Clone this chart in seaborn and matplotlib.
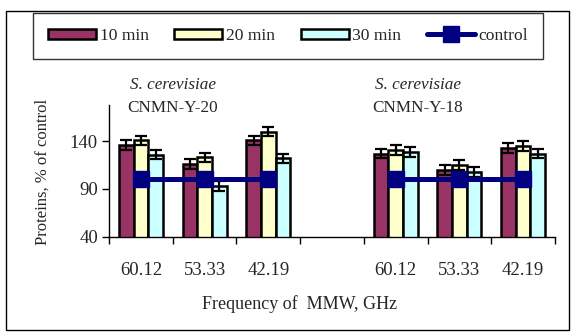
import numpy as np
import pandas as pd
import matplotlib
matplotlib.use("Agg")
import matplotlib.pyplot as plt
from matplotlib.patches import Patch, Rectangle
from matplotlib.lines import Line2D
import seaborn as sns

# ---- data ----
cat_keys = ["L60.12", "L53.33", "L42.19", "gap", "R60.12", "R53.33", "R42.19"]
tick_labels = ["60.12", "53.33", "42.19", "", "60.12", "53.33", "42.19"]
data_cats = ["L60.12", "L53.33", "L42.19", "R60.12", "R53.33", "R42.19"]
series = ["10 min", "20 min", "30 min"]
vals_10 = [136, 116, 141, 127, 110, 133]
vals_20 = [141, 123, 150, 131, 115, 135]
vals_30 = [126, 93, 122, 129, 108, 127]
err_10 = [5, 5, 5, 5, 5, 5]
err_20 = [5, 5, 5, 5, 5, 5]
err_30 = [5, 5, 5, 5, 5, 5]
control_left = ["L60.12", "L53.33", "L42.19"]
control_right = ["R60.12", "R53.33", "R42.19"]
control_val = 100
titles = [("S. cerevisiae", "CNMN-Y-20"), ("S. cerevisiae", "CNMN-Y-18")]
colors = ["#993366", "#FFFFCC", "#CCFFFF"]
navy = "#000080"

rows = []
for s, vals in zip(series, [vals_10, vals_20, vals_30]):
    for c, v in zip(data_cats, vals):
        rows.append({"cat": c, "series": s, "value": v})
df = pd.DataFrame(rows)
errs = {s: dict(zip(data_cats, e)) for s, e in zip(series, [err_10, err_20, err_30])}

sns.set_theme(style="white")
plt.rcParams["font.family"] = ["Liberation Serif", "DejaVu Serif"]

W, H = 572, 333
fig = plt.figure(figsize=(W / 100, H / 100), dpi=100)
ax = fig.add_axes([109 / W, 1 - 236.7 / H, (555 - 109) / W, (236.7 - 105) / H])

sns.barplot(data=df, x="cat", y="value", hue="series", order=cat_keys,
            hue_order=series, palette=colors, width=0.69, errorbar=None,
            edgecolor="black", linewidth=1.8, saturation=1, ax=ax, legend=False,
            zorder=2)

# error bars at bar positions from the library
for s, cont in zip(series, ax.containers):
    for p in cont.patches:
        if np.isnan(p.get_height()) or p.get_height() == 0:
            continue
        xc = p.get_x() + p.get_width() / 2
        ci = int(round(xc))
        key = cat_keys[ci]
        ax.errorbar(xc, p.get_height(), yerr=errs[s][key], fmt="none",
                    ecolor="black", elinewidth=1.6, capsize=4.6, capthick=1.6,
                    zorder=3)

for grp in (control_left, control_right):
    xs = [cat_keys.index(k) for k in grp]
    ax.plot(xs, [control_val] * len(xs), color=navy, lw=3.6, marker="s",
            markersize=11, zorder=4, solid_capstyle="butt")

ax.set_ylim(40, 178)
ax.set_xlim(-0.5, len(cat_keys) - 0.5)
ax.set_yticks([40, 90, 140])
ax.set_xticks(np.arange(len(cat_keys) + 1) - 0.5)
ax.set_xticklabels([])
ax.set_xticks(np.arange(len(cat_keys)), minor=True)
ax.set_xticklabels(tick_labels, minor=True)
ax.tick_params(axis="x", which="major", direction="out", length=5, width=1, color="black", bottom=True)
ax.tick_params(axis="x", which="minor", length=0, pad=18, labelsize=13.5, bottom=True)
ax.tick_params(axis="y", direction="out", length=5, width=1, color="black", labelsize=13.5, left=True, pad=3)
for sp in ["top", "right"]:
    ax.spines[sp].set_visible(False)
for sp in ["left", "bottom"]:
    ax.spines[sp].set_color("black")
    ax.spines[sp].set_linewidth(1)
ax.set_xlabel("")
ax.set_ylabel("")
ax.grid(False)

fig.text(43 / W, 1 - 172 / H, "Proteins, % of control", rotation=90,
         ha="center", va="center", fontsize=12)
fig.text(300 / W, 1 - 304 / H, "Frequency of  MMW, GHz", ha="center",
         va="center", fontsize=13)

for (t1, t2), xc in zip(titles, [173, 418]):
    fig.text(xc / W, 1 - 85 / H, t1, ha="center", va="center", fontsize=12.3, style="italic")
    fig.text(xc / W, 1 - 108 / H, t2, ha="center", va="center", fontsize=12.3)

handles = [Patch(facecolor=c, edgecolor="black", linewidth=1.8) for c in colors]
handles.append(Line2D([], [], color=navy, lw=3.6, marker="s", markersize=11))
leg = fig.legend(handles, series + ["control"], loc="center", ncol=4,
                 bbox_to_anchor=(33 / W, 1 - 57 / H, 510 / W, 42 / H), mode="expand",
                 fontsize=12.6, frameon=True, fancybox=False, edgecolor="black",
                 handlelength=2.75, handleheight=0.5, handletextpad=0.2,
                 borderpad=0.85, borderaxespad=0)
leg.get_frame().set_linewidth(1)

fig.patches.append(Rectangle((6 / W, 1 - 330 / H), 563 / W, 319 / H,
                             transform=fig.transFigure, fill=False,
                             edgecolor="black", linewidth=1))

fig.savefig("out.png", dpi=100)
